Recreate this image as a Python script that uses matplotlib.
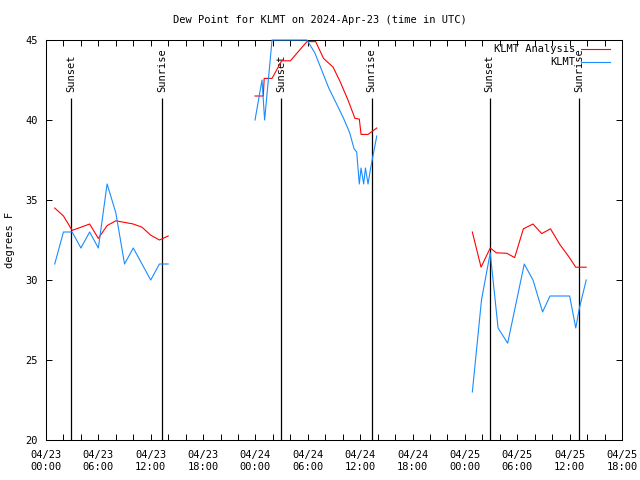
import matplotlib
matplotlib.use("Agg")
import matplotlib.pyplot as plt
import matplotlib.dates as mdates
import pandas as pd
import numpy as np

# ---- data (hours after 2024-04-23 00:00 UTC) ----
analysis_hours = [
    [1, 2, 3, 4, 5, 6, 7, 8, 9, 10, 11, 12, 13, 14],
    [23.95, 24.9, 25.0, 25.9, 27.0, 28.0, 29.9, 30.9, 31.8, 32.5, 32.9, 33.7, 34.6, 35.4, 35.9, 36.1, 36.9, 37.9],
    [48.85, 49.85, 50.9, 51.6, 52.8, 53.7, 54.7, 55.8, 56.8, 57.8, 58.9, 59.85, 60.7, 61.9],
]
analysis_vals = [
    [34.5, 34.0, 33.1, 33.3, 33.5, 32.6, 33.4, 33.7, 33.6, 33.5, 33.3, 32.8, 32.5, 32.75],
    [41.5, 41.5, 42.6, 42.6, 43.7, 43.7, 44.9, 44.9, 43.85, 43.5, 43.3, 42.4, 41.25, 40.1, 40.06, 39.1, 39.1, 39.5],
    [33.0, 30.8, 32.0, 31.7, 31.67, 31.4, 33.2, 33.5, 32.9, 33.2, 32.2, 31.5, 30.8, 30.8],
]
obs_hours = [
    [1, 2, 3, 4, 5, 6, 7, 8, 9, 10, 11, 12, 13, 14],
    [23.95, 24.75, 25.05, 25.9, 29.9, 30.8, 31.6, 32.4, 33.3, 34.1, 34.8, 35.3, 35.6, 35.9, 36.1, 36.4, 36.6, 36.9, 37.2, 37.9],
    [48.85, 49.9, 50.9, 51.8, 52.9, 54.8, 55.8, 56.9, 57.75, 60.0, 60.7, 61.1, 61.9],
]
obs_vals = [
    [31, 33, 33, 32, 33, 32, 36, 34.2, 31, 32, 31, 30, 31, 31],
    [40, 42.5, 40, 45, 45, 44.2, 43.1, 42.0, 41.0, 40.1, 39.2, 38.2, 38.0, 36.0, 37.0, 36.0, 37.0, 36.0, 37.0, 39.0],
    [23, 28.75, 31.7, 27, 26.05, 31, 30, 28, 29, 29, 27, 28.2, 30],
]
sun_hours = [2.90, 13.33, 26.90, 37.30, 50.82, 61.12]
sun_labels = ["Sunset", "Sunrise", "Sunset", "Sunrise", "Sunset", "Sunrise"]
series_labels = ["KLMT Analysis", "KLMT"]
series_colors = ["#ff0000", "#1a8cff"]
title = "Dew Point for KLMT on 2024-Apr-23 (time in UTC)"
ylabel = "degrees F"

base = pd.Timestamp("2024-04-23 00:00")
def to_time(h):
    return base + pd.to_timedelta(np.asarray(h, dtype=float), unit="h")

FONT = "DejaVu Sans Mono"
FS = 7.5
plt.rcParams["font.family"] = FONT
plt.rcParams["font.size"] = FS

fig = plt.figure(figsize=(6.4, 4.8), dpi=100)
L, R, T, B = 46, 622, 40, 440
ax = fig.add_axes([L / 640, 1 - B / 480, (R - L) / 640, (B - T) / 480])

for hs, vs in zip(analysis_hours, analysis_vals):
    ax.plot(to_time(hs), vs, color=series_colors[0], lw=0.8, zorder=4, clip_on=False)
for hs, vs in zip(obs_hours, obs_vals):
    ax.plot(to_time(hs), vs, color=series_colors[1], lw=0.8, zorder=4, clip_on=False)

ax.set_xlim(base, base + pd.Timedelta(hours=66))
ax.set_ylim(20, 45)

# sunrise / sunset markers
for h, lab in zip(sun_hours, sun_labels):
    t = to_time([h])[0]
    ax.vlines(t, 20, 41.4, color="black", lw=0.9, zorder=3)
    ax.text(t, 41.75, lab, rotation=90, ha="center", va="bottom", fontsize=FS)

ax.xaxis.set_major_locator(mdates.HourLocator(byhour=[0, 6, 12, 18]))
ax.xaxis.set_minor_locator(mdates.HourLocator(byhour=list(range(0, 24, 2))))
ax.xaxis.set_major_formatter(mdates.DateFormatter("%m/%d\n%H:%M"))
ax.set_yticks([20, 25, 30, 35, 40, 45])
ax.tick_params(axis="both", which="both", direction="in", top=True, right=True,
               length=4, width=0.7, labelsize=FS)
ax.tick_params(axis="x", which="major", pad=7)
ax.tick_params(axis="y", which="major", pad=6)
for lbl in ax.get_xticklabels():
    lbl.set_linespacing(1.25)
for s in ax.spines.values():
    s.set_linewidth(0.75)

# legend (gnuplot-style, right-aligned text)
for i, (lab, col) in enumerate(zip(series_labels, series_colors)):
    ypx = 49.5 + 13 * i
    yf = (B - ypx) / (B - T)
    ax.text((575 - L) / (R - L), yf, lab, transform=ax.transAxes, ha="right",
            va="center", fontsize=FS)
    ax.plot([(581 - L) / (R - L), (610 - L) / (R - L)], [yf, yf], color=col,
            lw=0.8, transform=ax.transAxes, clip_on=False)

fig.text(0.5, 1 - 20 / 480, title, ha="center", va="center", fontsize=FS)
fig.text(10 / 640, 0.5, ylabel, rotation=90, ha="center", va="center", fontsize=FS)

fig.savefig("out.png", dpi=100)
